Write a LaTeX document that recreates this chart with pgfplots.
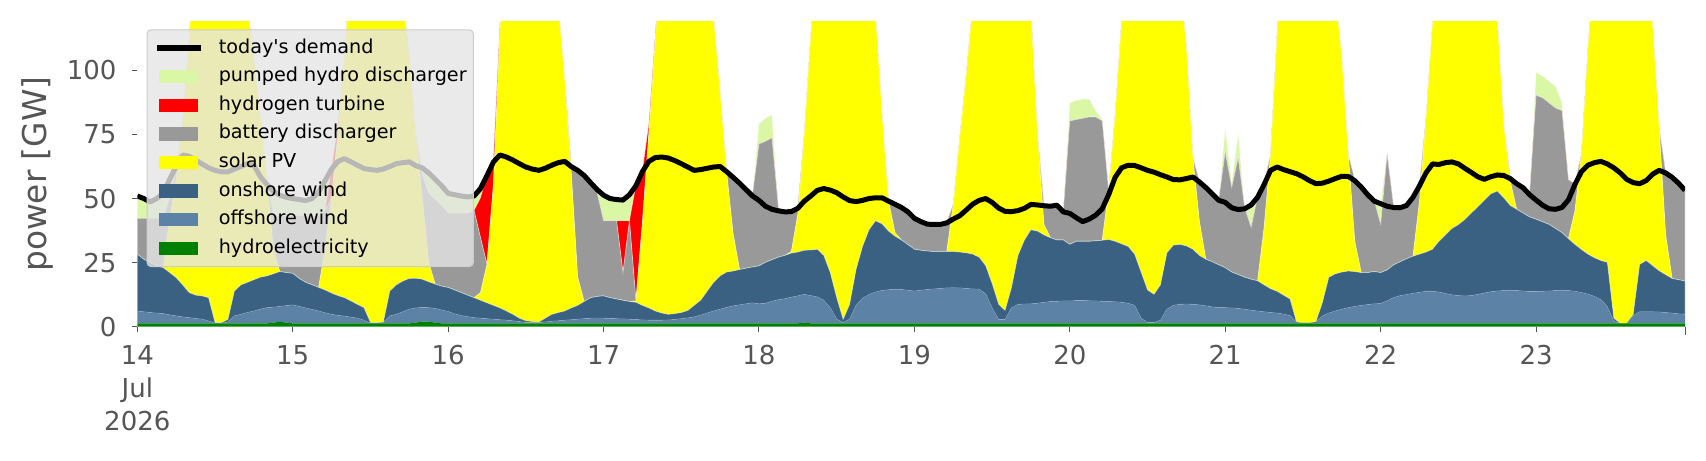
\documentclass[border=0pt]{standalone}
\usepackage{pgfplots}
\pgfplotsset{compat=1.18}
\usepackage{pgfplotstable}
\usepackage{fontspec}
\setmainfont{DejaVu Sans}[Ligatures=TeXOff]
\definecolor{cHy}{RGB}{0,128,0}
\definecolor{cOff}{RGB}{92,131,166}
\definecolor{cOn}{RGB}{58,96,130}
\definecolor{cSo}{RGB}{255,255,0}
\definecolor{cBa}{RGB}{153,153,153}
\definecolor{cH2}{RGB}{255,0,0}
\definecolor{cPH}{RGB}{218,247,166}
\definecolor{tickgray}{RGB}{85,85,85}
\definecolor{legbg}{RGB}{229,229,229}
\definecolor{legedge}{RGB}{204,204,204}
\pgfplotsset{
  patch legend/.style={legend image code/.code={\path[##1, fill opacity=1, draw=none, sharp corners] (0pt,-3.35pt) rectangle (19.7pt,3.35pt);}},
  demand legend/.style={legend image code/.code={\draw[##1, draw opacity=1, sharp corners] (-1.15pt,0pt) -- (20.85pt,0pt);}},
  layer/.style={fill=#1, draw=white, draw opacity=0.4, line width=0.35pt},
  flat/.style={fill=#1, draw=none},
}
\pgfplotstableread{
t hy of on so ba h2 ph de
0 1.3 4.8 22.2 0 14 0 9 51
1 1.3 4.5 20.5 0 16 0 8 50
2 1.3 4.2 19.5 0 17.3 0 6.7 48.7
3 1.3 4.0 18.5 0 18.5 0 8 50
4 1.3 3.8 17.9 0 19.3 0 10 52
5 1.3 3.3 16.5 21.2 8 0 7.5 57.5
6 1.3 2.9 14.9 38.2 3 0 2.5 62.5
7 1.3 2.5 12.5 64 0 0 0 67
8 1.3 2.2 9.8 99 0 0 0 66.5
9 1.3 1.9 9.1 138 0 0 0 65
10 1.3 1.6 9.1 163.3 0 0 0 63.5
11 1.3 0.9 9.1 179 0 0 0 62
12 1.3 0 0.3 198.7 0 0 0 61
13 1.3 0 0.3 198.7 0 0 0 60.4
14 1.3 0.5 1.0 187.5 0 0 0 60.4
15 1.3 2.9 9.7 156.4 0 0 0 61.5
16 1.3 3.5 11.5 129 0 0 0 62.5
17 1.3 4.2 11.8 108 0 0 0 63.6
18 1.3 4.8 12.2 86 0 0 0 63
19 1.3 5.5 12.5 63 0 0 0 58.5
20 1.3 6.1 12.4 38.5 0 0 0 55.5
21 1.6 6.0 13.0 9.5 13 0 9.8 52.8
22 1.9 6.0 13.6 0 21.6 0 8.3 51.3
23 1.6 6.6 12.9 0 22 0 7.5 50.5
24 1.3 7.2 12.3 0 22.5 0 7 50
25 1.3 6.6 10.9 0 24.5 0 6.6 49.6
26 1.3 6.0 10.0 0 26 0 6.2 49.2
27 1.3 5.4 9.6 0 27 0 7 50
28 1.3 4.8 9.2 0 28 0 9.5 52.5
29 1.3 4.1 8.9 16 15 0 12 57
30 1.3 3.5 8.3 37.2 0 11.5 0 61.5
31 1.3 3.1 7.7 63.2 0 4 0 64.5
32 1.3 2.8 7.2 94 0 0 0 65.6
33 1.3 2.4 6.3 135.3 0 0 0 64.3
34 1.3 2.0 5.4 161.6 0 0 0 63
35 1.3 1.2 4.9 177.9 0 0 0 61.7
36 1.3 0 0.3 196.7 0 0 0 61.3
37 1.3 0 0.3 196.7 0 0 0 61
38 1.3 0.2 0.3 188.5 0 0 0 61.5
39 1.3 2.9 9.7 161.4 0 0 0 62.5
40 1.3 3.5 11.5 134 0 0 0 63.6
41 1.3 4.5 12.0 110.5 0 0 0 64
42 1.3 5.5 12.0 86.5 0 0 0 64.3
43 1.6 5.7 11.6 56.2 0 0 0 62.8
44 2 5.5 11.0 31.5 9 0 3 62
45 2 5.4 10.1 7.5 27 0 8 60
46 1.6 5.5 9.5 0 33 0 8 57.5
47 1.3 5.2 9.3 0 31.5 0 8 55
48 1.3 4.6 9.4 0 29 0 8 52
49 1.3 3.7 9.3 0 30 0 7.5 51.5
50 1.3 3.0 9.0 0 31 0 7 51
51 1.3 2.6 8.4 0 32 0 6.6 50.6
52 1.3 2.2 7.8 0 34 0 6 51
53 1.3 2.0 7.0 3 21.4 15.6 3.9 53.9
54 1.3 1.8 6.2 15 0 35 0 59
55 1.3 1.6 5.4 47 0 10 0 64.3
56 1.3 1.4 4.6 108 0 3 0 67
57 1.3 1.2 3.6 154.2 0 0 0 66.2
58 1.3 1.0 2.5 175.5 0 0 0 65
59 1.3 0.7 1.3 192 0 0 0 63.6
60 1.3 0.3 0.7 198 0 0 0 62.3
61 1.3 0.3 0.4 198.3 0 0 0 61.5
62 1.3 0.3 0.2 193.5 0 0 0 61
63 1.3 0.5 1.5 177 0 0 0 61.8
64 1.3 0.8 2.7 150.5 0 0 0 63
65 1.3 1.0 3.2 119.8 0 0 0 64
66 1.3 1.2 3.6 90.2 0 0 0 64.5
67 1.3 1.4 4.6 53 2.5 0 0 62.5
68 1.3 1.6 5.4 11 42 0 0 61
69 1.3 1.8 6.7 0 49.5 0 0 59
70 1.3 2.0 8.0 0 45.2 0 0 56.2
71 1.3 2.0 8.5 0 40.5 0 1.5 53.5
72 1.3 2.0 8.7 0 29.3 0 10.3 51.3
73 1.3 1.9 8.1 0 30 0 9 50
74 1.3 1.8 7.7 0 30.5 0 8.6 49.6
75 1.3 1.7 7.3 0 10.8 20.2 8.4 49.4
76 1.3 1.6 6.9 0 31.5 0 10.5 51.5
77 1.3 1.5 6.7 0.5 0 45.3 0 55
78 1.3 1.3 5.7 32 0 20.5 0 60.5
79 1.3 1.2 4.8 68 0 4 0 64.5
80 1.3 1.2 3.6 106.2 0 2 0 66
81 1.3 1.2 2.8 145 0 0 0 66.2
82 1.3 1.3 2.2 170.5 0 0 0 65.8
83 1.3 1.5 2.3 185.2 0 0 0 64.8
84 1.3 1.8 2.4 194.8 0 0 0 63.6
85 1.3 2.1 2.9 194 0 0 0 62.3
86 1.3 2.5 4.5 187 0 0 0 61
87 1.3 3.2 5.8 170 0 0 0 61.3
88 1.3 4.0 8.5 146.5 0 0 0 61.8
89 1.3 4.8 11.2 103 0 0 0 62.3
90 1.3 5.5 13.0 71.5 0 0 0 62.5
91 1.3 6.2 13.8 39 0.5 0 0 60.5
92 1.3 6.8 13.6 14.6 22.3 0 0 58.3
93 1.3 7.2 13.8 0 34 0 0 56
94 1.3 7.6 13.9 0 31 0 0 53.5
95 1.3 8.0 14.0 0 28 0 0 51
96 1.3 7.6 14.8 0 47.6 0 8 49.3
97 1.3 7.8 16.0 0 47.2 0 9 47
98 1.3 8.6 16.2 0 47.6 0 9 45.8
99 1.3 9.2 16.6 0 19.2 0 0 45.2
100 1.3 9.6 16.9 0 17.3 0 0 44.8
101 1.3 10.2 17.2 0.6 15.9 0 0 44.9
102 1.3 10.7 17.1 14.7 2.7 0 0 46.2
103 1.6 11.0 17.2 45.5 0 0 0 49
104 1.3 10.8 17.8 84 0 0 0 51
105 1.3 10.3 18.6 120.1 0 0 0 53.2
106 1.3 9.0 17.5 137.5 0 0 0 53.9
107 1.3 6.1 13.7 164.2 0 0 0 53.3
108 1.3 1.6 8.4 189 0 0 0 52.3
109 1.3 0.3 1.2 202.5 0 0 0 50.6
110 1.3 1.6 5.8 191.6 0 0 0 49.2
111 1.3 7.0 14.0 168 0 0 0 48.8
112 1.3 9.8 20.2 144 0 0 0 49.3
113 1.3 11.2 25.3 112.5 0 0 0 50
114 1.3 12.2 27.8 80 0 0 0 50.3
115 1.3 12.8 26.0 42.7 0 0 0 50.3
116 1.3 13.1 22.9 11.7 0.3 0 0 49
117 1.3 13.3 20.7 1.4 11.4 0 0 47.8
118 1.3 13.2 19.3 0 13 0 0 46.5
119 1.3 12.9 17.8 0 13.1 0 0 44.8
120 1.3 12.6 16.3 0 12.4 0 0 42.3
121 1.3 12.9 15.6 0 11.5 0 0 41
122 1.3 13.2 15.0 0 10.8 0 0 40
123 1.3 13.4 14.6 0 10.9 0 0 39.9
124 1.3 13.6 14.4 0 10.9 0 0 39.9
125 1.3 13.8 14.2 0 11.5 0 0 40.5
126 1.3 13.9 14.1 18.4 0 0 0 42
127 1.3 13.8 14.0 44.6 0 0 0 43.3
128 1.3 13.6 13.9 69.5 0 0 0 45.5
129 1.3 13.4 13.6 97 0 0 0 47.8
130 1.3 13.3 12.5 133.2 0 0 0 49.3
131 1.3 11.5 11.0 156.5 0 0 0 50
132 1.3 6.0 9.5 178.5 0 0 0 48.5
133 1.3 1.5 6.0 191.5 0 0 0 46.3
134 1.3 1.5 3.5 194 0 0 0 45
135 1.3 6.0 8.0 175 0 0 0 44.9
136 1.3 7.4 19.1 147.5 0 0 0 45.3
137 1.3 7.5 25.0 116.5 0 0 0 46.2
138 1.3 7.6 28.9 84.5 0 0 0 47.7
139 1.3 7.8 28.2 37.7 0 0 0 47.5
140 1.3 8.2 26.3 4.1 7.6 0 0 47.2
141 1.3 8.5 24.9 0 12.6 0 0 47
142 1.3 8.6 23.9 0 13.9 0 0 47.4
143 1.3 8.7 23.8 0 11.3 0 0 44.8
144 1.3 8.7 22.1 0 48.2 0 7 44.2
145 1.3 8.9 23.1 0 47.5 0 7.5 42.5
146 1.3 8.9 23.1 0 48 0 7.5 41
147 1.3 8.8 23.2 0 48.5 0 7 42
148 1.3 8.7 23.5 0 48.3 0 2.5 43.5
149 1.3 8.6 23.8 0 46.6 0 0.5 46
150 1.3 8.5 24.2 18.9 0 0 0 51.5
151 1.3 8.4 23.6 49.5 0 0 0 58.3
152 1.3 8.2 22.8 87 0 0 0 62
153 1.3 7.8 22.2 119 0 0 0 63
154 1.3 7.0 20.0 142 0 0 0 62.9
155 1.3 2.0 18.0 169 0 0 0 62
156 1.3 0.3 12.7 186 0 0 0 61
157 1.3 0.3 11.0 192.7 0 0 0 60.3
158 1.3 1.2 13.8 184 0 0 0 59.3
159 1.3 5.5 22.0 156.5 0 0 0 58.4
160 1.3 7.0 23.5 128.5 0 0 0 57.4
161 1.3 7.4 23.4 103.2 0 0 0 57.3
162 1.3 7.5 22.7 77.5 0 0 0 57.8
163 1.3 7.4 21.5 35.7 0 0 0 58.4
164 1.3 7.2 19.3 13.4 15.6 0 0 56.5
165 1.3 6.8 18.2 0 28.3 0 0 54.3
166 1.3 6.4 17.6 0 26.8 0 0 51.8
167 1.3 6.1 16.7 0 25.5 0 0 49.3
168 1.3 6.1 15.6 0 45.3 0 9 48.5
169 1.3 6.0 14.0 0 33 0 2 46.4
170 1.3 5.8 13.2 0 45.6 0 9.4 45.7
171 1.3 5.5 12.5 0 27 0 0 46
172 1.3 5.1 12.1 0 20.3 0 9 47.5
173 1.3 4.8 11.8 0 32.9 0 0 50.5
174 1.3 4.5 10.5 22.3 17.2 0 0 55.5
175 1.3 4.2 9.3 52.4 0 0 0 61
176 1.3 4.0 8.5 100.1 0 0 0 62.3
177 1.3 3.6 7.4 138 0 0 0 61.3
178 1.3 3.0 6.5 164.5 0 0 0 60.5
179 1.3 0.5 0 188.5 0 0 0 59.7
180 1.3 0.2 0 198.8 0 0 0 58.5
181 1.3 0.2 0 203.8 0 0 0 57
182 1.3 0.6 0 198.4 0 0 0 55.8
183 1.3 2.8 5.2 176 0 0 0 56
184 1.3 4.0 14.0 141 0 0 0 56.8
185 1.3 4.8 14.5 109.7 0 0 0 57.8
186 1.3 5.5 14.5 83.5 0 0 0 58.7
187 1.3 6.1 14.3 45.5 0 0 0 58.6
188 1.3 6.6 13.6 11.8 24 0 0 57
189 1.3 7.0 12.8 0 33.7 0 0 54.5
190 1.3 7.3 12.5 0 30.7 0 0 51.5
191 1.3 7.6 12.6 0 27.8 0 0 49
192 1.3 7.7 12.1 0 18.8 0 8.4 48
193 1.3 8.8 12.0 0 45.2 0 0 47
194 1.3 10.0 12.8 0 22.7 0 0 46.5
195 1.3 10.8 13.2 0 21.4 0 0 46.4
196 1.3 11.2 14.0 0 21.1 0 0 47.3
197 1.3 11.7 14.5 0 23.3 0 0 50.5
198 1.3 12.1 14.9 20.7 6.3 0 0 55
199 1.3 12.5 15.3 52.2 0 0 0 60
200 1.3 12.5 16.4 87.6 0 0 0 63.5
201 1.3 12.2 19.8 117 0 0 0 63.3
202 1.3 11.6 22.9 139.5 0 0 0 64
203 1.3 11.1 25.9 152 0 0 0 64.3
204 1.3 10.8 27.7 160.5 0 0 0 63.5
205 1.3 10.7 29.8 163.5 0 0 0 61.8
206 1.3 10.8 32.2 156 0 0 0 60.2
207 1.3 11.3 34.2 138.5 0 0 0 58.5
208 1.3 11.8 36.2 116 0 0 0 57.5
209 1.3 12.3 38.2 88.5 0 0 0 58.5
210 1.3 12.6 39.0 67.4 0 0 0 59.2
211 1.3 12.8 36.2 28.6 0 0 0 59
212 1.3 12.9 33.1 9.5 1.3 0 0 57.8
213 1.3 12.8 31.7 0 10.3 0 0 55.8
214 1.3 12.6 30.4 0 10.2 0 0 54.2
215 1.3 12.4 29.1 0 9 0 0 51.5
216 1.3 12.4 28.2 0 48.4 0 9 49.4
217 1.3 12.5 27.1 0 48.4 0 8.5 47.4
218 1.3 12.6 26.0 0 47.4 0 8.5 46
219 1.3 12.8 24.2 0 47 0 8.5 45.8
220 1.3 12.9 22.5 0 47.6 0 3 46.5
221 1.3 12.8 20.2 0 23 0 0 49.5
222 1.3 12.5 18.3 13 10.7 0 0 55.5
223 1.3 12.0 16.8 37.2 0 0 0 60.5
224 1.3 11.4 15.6 80 0 0 0 63
225 1.3 10.5 15.1 113.4 0 0 0 64
226 1.3 9.2 15.3 144.5 0 0 0 64.5
227 1.3 6.5 17.3 165.2 0 0 0 63.5
228 1.3 0.8 1.2 197 0 0 0 62
229 1.3 0 0 204 0 0 0 60
230 1.3 0 0 199 0 0 0 57.5
231 1.3 3.0 0.5 185.5 0 0 0 56.2
232 1.3 4.5 18.5 146 0 0 0 55.8
233 1.3 4.5 20.0 119.5 0 0 0 57
234 1.3 4.5 18.0 93.5 0 0 0 59.5
235 1.3 4.4 16.1 55.8 0 0 0 61
236 1.3 4.2 14.8 15.7 24.3 0 0 60
237 1.3 4.0 13.5 0 39.8 0 0 58.3
238 1.3 3.7 13.3 0 38 0 0 56
239 1.3 3.5 13.0 0 35.7 0 0 53.2
}\data

\begin{document}
\begin{tikzpicture}
\begin{axis}[
  at={(0pt,0pt)}, anchor=south west, scale only axis,
  width=773.85pt, height=152.5pt,
  xmin=0, xmax=239, ymin=0, ymax=119,
  stack plots=y, no markers,
  axis lines*=left, axis line style={draw=none},
  tick align=outside, major tick length=2.8pt,
  tick style={draw=tickgray, line width=0.5pt},
  xtick={0,24,...,216},
  xticklabels={{14\\Jul\\2026},15,16,17,18,19,20,21,22,23},
  extra x ticks={239}, extra x tick labels={},
  extra x tick style={major tick length=4pt},
  ytick={0,25,50,75,100},
  /pgf/number format/assume math mode=true,
  tick label style={font=\fontsize{13}{16.5}\selectfont, text=tickgray},
  xticklabel style={align=center, yshift=-2.9pt},
  yticklabel style={xshift=-4.1pt},
  ylabel={power [GW]},
  every axis y label/.style={at={(axis description cs:-0.0645,0.5)}, anchor=center, rotate=90, font=\fontsize{16.4}{19}\selectfont, text=tickgray},
]
\addplot[flat=cHy] table[x=t, y=hy]{\data} \closedcycle;
\addplot[flat=cOff] table[x=t, y=of]{\data} \closedcycle;
\addplot[layer=cOn] table[x=t, y=on]{\data} \closedcycle;
\addplot[layer=cSo] table[x=t, y=so]{\data} \closedcycle;
\addplot[layer=cBa] table[x=t, y=ba]{\data} \closedcycle;
\addplot[layer=cH2] table[x=t, y=h2]{\data} \closedcycle;
\addplot[layer=cPH] table[x=t, y=ph]{\data} \closedcycle;
\end{axis}
\begin{axis}[
  at={(0pt,0pt)}, anchor=south west, scale only axis,
  width=773.85pt, height=152.5pt,
  xmin=0, xmax=239, ymin=0, ymax=119,
  hide axis, no markers,
  legend cell align=left,
  legend style={at={(0.006,0.975)}, anchor=north west,
    fill=legbg, fill opacity=0.8, draw=legedge, draw opacity=1, text opacity=1,
    rounded corners=2pt, line width=0.5pt,
    inner xsep=3.35pt, inner ysep=2pt, row sep=0pt, column sep=7.5pt,
    font=\fontsize{9.6}{11.5}\selectfont,
    nodes={inner xsep=0pt, inner ysep=2.15pt, text height=7.5pt, text depth=2.5pt}},
]
\addplot[forget plot, black, line width=2.5pt, line join=round] table[x=t, y=de]{\data};
\addlegendimage{demand legend, black, line width=3pt}
\addlegendentry{today's demand}
\addlegendimage{patch legend, fill=cPH}
\addlegendentry{pumped hydro discharger}
\addlegendimage{patch legend, fill=cH2}
\addlegendentry{hydrogen turbine}
\addlegendimage{patch legend, fill=cBa}
\addlegendentry{battery discharger}
\addlegendimage{patch legend, fill=cSo}
\addlegendentry{solar PV}
\addlegendimage{patch legend, fill=cOn}
\addlegendentry{onshore wind}
\addlegendimage{patch legend, fill=cOff}
\addlegendentry{offshore wind}
\addlegendimage{patch legend, fill=cHy}
\addlegendentry{hydroelectricity}
\end{axis}
\pgfresetboundingbox
\path[use as bounding box] (-68.65pt,-66.65pt) rectangle (784.35pt,163.35pt);
\end{tikzpicture}
\end{document}
